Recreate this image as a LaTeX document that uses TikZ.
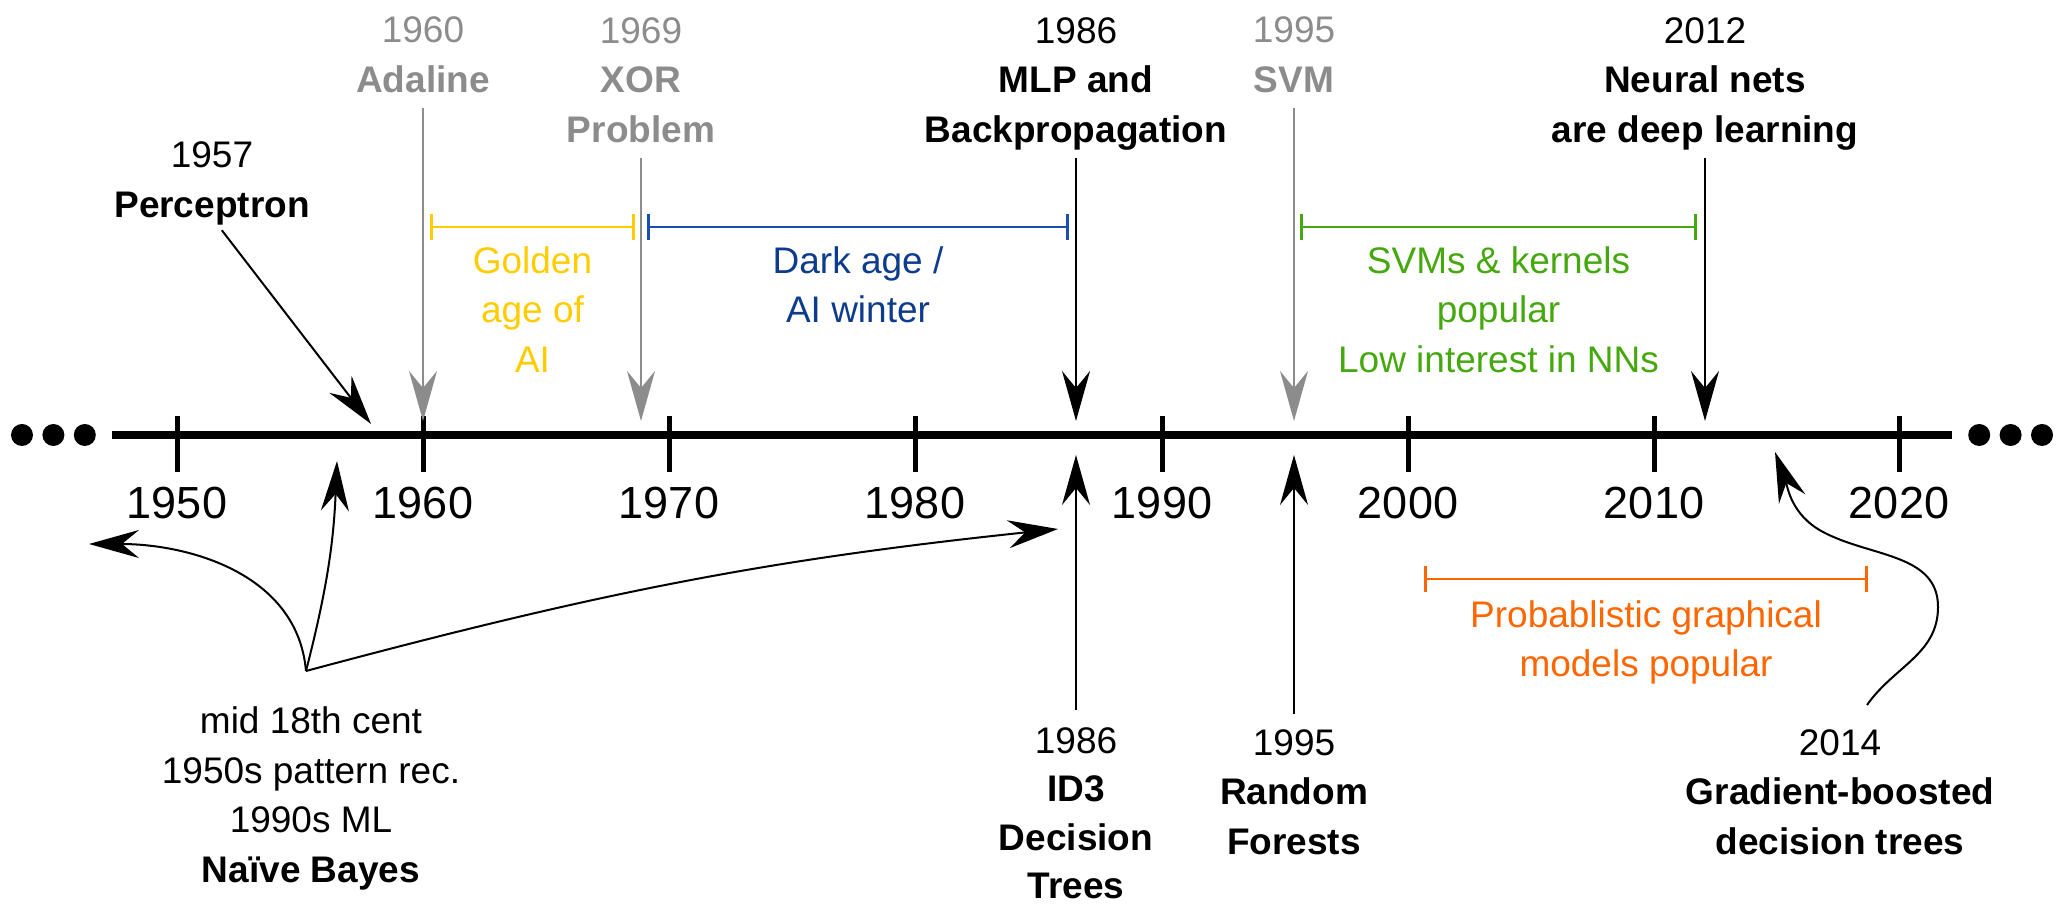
\documentclass[tikz,border=0pt]{standalone}
\usepackage{fontspec}
\setmainfont{Liberation Sans}
\usepackage{tikz}
\usetikzlibrary{positioning}
\usetikzlibrary{arrows.meta}
\definecolor{eventgray}{HTML}{8C8C8C}
\definecolor{goldspan}{HTML}{FFCC00}
\definecolor{darkspan}{HTML}{1A4FAE}
\definecolor{darktext}{HTML}{0D3C8C}
\definecolor{svmspan}{HTML}{46A80F}
\definecolor{pgmspan}{HTML}{FF6600}
\tikzset{x=1pt, y=1pt,
every node/.style={ % Sets the properties for each label
font=\fontsize{37}{49.5}\selectfont,
align=center,
inner sep=0pt},
tick/.style={fill, minimum width=5pt, minimum height=56pt}, % Marks on the axis
year/.style={font=\fontsize{45}{50}\selectfont},
milestone/.style={text depth=0pt}, % Labels above the axis sit on their last baseline
event/.style={ % Arrows pointing at the axis
draw,
line width=2pt,
-{Stealth[length=50pt,width=28pt,inset=17pt]},
shorten <=16pt},
span/.style={ % Periods
draw,
line width=2.7pt,
{Bar[width=26pt]}-{Bar[width=26pt]}},
dots/.style={fill, circle, minimum size=22pt}}

\begin{document}
\begin{tikzpicture}
    \useasboundingbox (0,0) rectangle (2058,904);
    % axis
    \coordinate (start) at (112,469);
    \coordinate (end) at (1952,469);
    \draw[line width=8.5pt] (start) -- (end);
    \node[dots, left=16pt of start] (ldot3) {};
    \node[dots, left=9pt of ldot3] (ldot2) {};
    \node[dots, left=9pt of ldot2] (ldot1) {};
    \node[dots, right=16pt of end] (rdot1) {};
    \node[dots, right=9pt of rdot1] (rdot2) {};
    \node[dots, right=9pt of rdot2] (rdot3) {};
    \node[tick] (t1950) at (177,460) {};
    \node[tick] (t1960) at (423,460) {};
    \node[tick] (t1970) at (669,460) {};
    \node[tick] (t1980) at (915,460) {};
    \node[tick] (t1990) at (1162,460) {};
    \node[tick] (t2000) at (1408,460) {};
    \node[tick] (t2010) at (1654,460) {};
    \node[tick] (t2020) at (1899,460) {};
    \node[year, below=15pt of t1950] (y1950) {1950};
    \node[year, below=15pt of t1960] (y1960) {1960};
    \node[year, below=15pt of t1970] (y1970) {1970};
    \node[year, below=15pt of t1980] (y1980) {1980};
    \node[year, below=15pt of t1990] (y1990) {1990};
    \node[year, below=15pt of t2000] (y2000) {2000};
    \node[year, below=15pt of t2010] (y2010) {2010};
    \node[year, below=15pt of t2020] (y2020) {2020};
    % above the axis
    \node[milestone, anchor=south] (perceptron) at (212,686.5) {1957\\\textbf{Perceptron}};
    \node[milestone, anchor=south, eventgray] (adaline) at (423,811.5) {1960\\\textbf{Adaline}};
    \node[milestone, anchor=south, eventgray] (xor) at (641,761.5) {1969\\\textbf{XOR}\\\textbf{Problem}};
    \node[milestone, anchor=south] (mlp) at (1076,761.5) {1986\\\textbf{MLP and}\\\textbf{Backpropagation}};
    \node[milestone, anchor=south, eventgray] (svm) at (1294,811.5) {1995\\\textbf{SVM}};
    \node[milestone, anchor=south] (deep) at (1705,761.5) {2012\\\textbf{Neural nets}\\\textbf{are deep learning}};
    \coordinate (at1957) at (371,480);
    \coordinate (at1960) at (423,483);
    \coordinate (at1969) at (641,483);
    \coordinate (at1986) at (1076,483);
    \coordinate (at1995) at (1294,483);
    \coordinate (at2012) at (1705,483);
    \draw[event] (perceptron.south) -- (at1957);
    \draw[event, eventgray] (adaline.south) -- (at1960);
    \draw[event, eventgray] (xor.south) -- (at1969);
    \draw[event] (mlp.south) -- (at1986);
    \draw[event, eventgray] (svm.south) -- (at1995);
    \draw[event] (deep.south) -- (at2012);
    % periods
    \coordinate (gold0) at (430,677);
    \coordinate (gold1) at (635,677);
    \coordinate (dark0) at (647,677);
    \coordinate (dark1) at (1069,677);
    \coordinate (svm0) at (1300,677);
    \coordinate (svm1) at (1697,677);
    \coordinate (pgm0) at (1424,325);
    \coordinate (pgm1) at (1868,325);
    \draw[span, goldspan] (gold0) -- node[below=18pt] (golden) {Golden\\age of\\AI} (gold1);
    \draw[span, darkspan] (dark0) -- node[below=18pt, darktext] (winter) {Dark age /\\AI winter} (dark1);
    \draw[span, svmspan] (svm0) -- node[below=18pt] (kernels) {SVMs \& kernels\\popular\\Low interest in NNs} (svm1);
    \draw[span, pgmspan] (pgm0) -- node[below=20pt] (graphical) {Probablistic graphical\\models popular} (pgm1);
    % below the axis
    \node[anchor=north] (bayes) at (311,197.5) {mid 18th cent\\1950s pattern rec.\\1990s ML\\\textbf{Naïve Bayes}};
    \node[anchor=north, font=\fontsize{37}{48.5}\selectfont] (id3) at (1076,177) {1986\\\textbf{ID3}\\\textbf{Decision}\\\textbf{Trees}};
    \node[anchor=north] (forests) at (1294,175) {1995\\\textbf{Random}\\\textbf{Forests}};
    \node[anchor=north] (gbdt) at (1840,175) {2014\\\textbf{Gradient-boosted}\\\textbf{decision trees}};
    \coordinate (fork) at (306,233);
    \coordinate (toearly) at (89,360);
    \coordinate (to1957) at (337,443);
    \coordinate (to1986) at (1058,375);
    \coordinate (up1986) at (1076,449);
    \coordinate (up1995) at (1294,449);
    \coordinate (gbfrom) at (1867,199);
    \coordinate (gbfar) at (1938,297);
    \coordinate (gbbend) at (1823,372);
    \coordinate (up2014) at (1775,452);
    \draw[event, shorten <=0pt] (fork) to[out=95,in=0] (toearly);
    \draw[event, shorten <=0pt] (fork) to[bend right=6] (to1957);
    \draw[event, shorten <=0pt] (fork) to[out=15,in=186] (to1986);
    \draw[event, shorten <=17pt] (id3.north) -- (up1986);
    \draw[event, shorten <=15pt] (forests.north) -- (up1995);
    \draw[event, shorten <=0pt] (gbfrom) to[out=55,in=-90] (gbfar) to[out=90,in=-28] (gbbend) to[out=152,in=-70] (up2014);
\end{tikzpicture}
\end{document}
